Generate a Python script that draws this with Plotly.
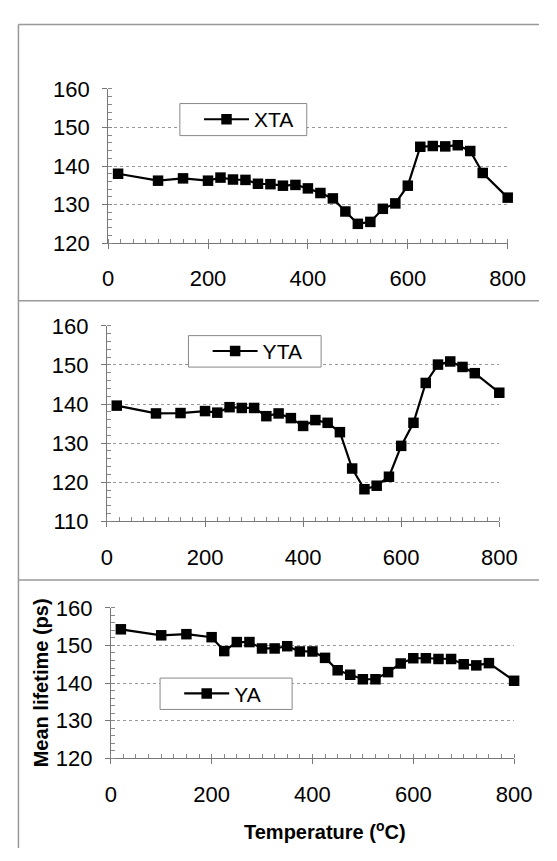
import plotly.graph_objects as go

temps = [20, 100, 150, 200, 225, 250, 275, 300, 325, 350, 375, 400, 425, 450,
         475, 500, 525, 550, 575, 600, 625, 650, 675, 700, 725, 750, 800]

xta = [138.0, 136.2, 136.8, 136.2, 137.0, 136.5, 136.4, 135.4, 135.3, 134.9, 135.1,
       134.2, 133.0, 131.6, 128.2, 125.0, 125.5, 128.9, 130.3, 134.9, 145.0, 145.2,
       145.1, 145.4, 143.9, 138.2, 131.8]

yta = [139.6, 137.6, 137.7, 138.2, 137.8, 139.2, 139.0, 139.0, 136.9, 137.6, 136.4,
       134.4, 135.9, 135.2, 132.8, 123.5, 118.2, 119.1, 121.4, 129.3, 135.2, 145.4,
       150.1, 150.9, 149.5, 147.9, 142.9]

ya = [154.3, 152.7, 153.0, 152.2, 148.5, 150.9, 150.9, 149.2, 149.2, 149.8, 148.4,
      148.4, 146.7, 143.4, 142.2, 141.0, 141.0, 142.9, 145.2, 146.6, 146.6, 146.4,
      146.4, 145.0, 144.7, 145.3, 140.6]

series_names = ["XTA", "YTA", "YA"]
y_ranges = [[120, 160], [110, 160], [120, 160]]
x_ticks = [0, 200, 400, 600, 800]
x_title = "Temperature (<sup>o</sup>C)"
y_title = "Mean lifetime (ps)"

W, H = 557, 861
FONT = "Arial, Liberation Sans, sans-serif"

def px_x(v):
    return v / W

def px_y(v):
    return (H - v) / H

# pixel geometry of the three panels: (x_left, x_right, y_top, y_bottom)
panels = [(106.7, 524.3, 79.3, 238.0),
          (105.5, 515.5, 323.3, 524.5),
          (109.5, 531.0, 613.7, 768.5)]
legend_boxes = [(181.7, 314.3, 94.3, 127.3),
                (190.7, 329.3, 333.3, 365.7),
                (161.0, 299.0, 686.0, 718.3)]

fig = go.Figure()
data = [xta, yta, ya]
for i, (name, vals) in enumerate(zip(series_names, data)):
    sfx = "" if i == 0 else str(i + 1)
    fig.add_trace(go.Scatter(
        x=temps, y=vals, name=name, mode="lines+markers",
        line=dict(color="black", width=2.2),
        marker=dict(symbol="square", size=10.5, color="black"),
        xaxis="x" + sfx, yaxis="y" + sfx,
        legend="legend" + sfx, cliponaxis=False,
    ))

layout = dict(
    width=W, height=H,
    margin=dict(l=0, r=0, t=0, b=0),
    paper_bgcolor="white", plot_bgcolor="white",
    font=dict(family=FONT, color="black", size=22),
    showlegend=True,
)

shapes = []
for i, ((xl, xr, yt, yb), yr, (bl, br, bt, bb)) in enumerate(zip(panels, y_ranges, legend_boxes)):
    sfx = "" if i == 0 else str(i + 1)
    layout["xaxis" + sfx] = dict(
        domain=[px_x(xl), px_x(xr)], range=[0, 800], anchor="y" + sfx,
        tickvals=x_ticks, showgrid=False, zeroline=False,
        showline=True, linecolor="#777", linewidth=1,
        ticks="outside", ticklen=5, tickcolor="#777",
        minor=dict(dtick=25, ticks="inside", ticklen=4, tickcolor="#888"),
        tickfont=dict(size=22, family=FONT), ticklabelstandoff=11,
    )
    layout["yaxis" + sfx] = dict(
        domain=[px_y(yb), px_y(yt)], range=yr, anchor="x" + sfx,
        dtick=10, showgrid=True, gridcolor="#999", griddash="dot", gridwidth=1,
        zeroline=False, showline=True, linecolor="#777", linewidth=1,
        ticks="outside", ticklen=5, tickcolor="#777",
        minor=dict(dtick=2, ticks="inside", ticklen=4, tickcolor="#888"),
        tickfont=dict(size=22, family=FONT), ticklabelstandoff=8,
    )
    layout["legend" + sfx] = dict(
        x=px_x(bl + 20), y=px_y((bt + bb) / 2), xanchor="left", yanchor="middle",
        bgcolor="rgba(0,0,0,0)", borderwidth=0,
        font=dict(size=21, family=FONT), itemwidth=45,
    )
    shapes.append(dict(type="rect", xref="paper", yref="paper",
                       x0=px_x(bl), x1=px_x(br), y0=px_y(bb), y1=px_y(bt),
                       line=dict(color="#888", width=1), fillcolor="white", layer="above"))

annotations = [
    dict(text=x_title, xref="paper", yref="paper", x=px_x(333), y=px_y(843),
         xanchor="center", yanchor="middle", showarrow=False,
         font=dict(size=20, family=FONT, weight="bold", color="black")),
    dict(text=y_title, xref="paper", yref="paper", x=px_x(37), y=px_y(691),
         xanchor="center", yanchor="middle", showarrow=False, textangle=-90,
         font=dict(size=20, family=FONT, weight="bold", color="black")),
]

# outer frame and panel separators
frame_col = "#999"
shapes += [
    dict(type="line", xref="paper", yref="paper", x0=px_x(13), x1=1.0, y0=px_y(13), y1=px_y(13),
         line=dict(color=frame_col, width=1.5)),
    dict(type="line", xref="paper", yref="paper", x0=px_x(13), x1=px_x(13), y0=0, y1=px_y(13),
         line=dict(color=frame_col, width=1.5)),
    dict(type="line", xref="paper", yref="paper", x0=px_x(13), x1=1.0, y0=px_y(297.5), y1=px_y(297.5),
         line=dict(color=frame_col, width=1.5)),
    dict(type="line", xref="paper", yref="paper", x0=px_x(13), x1=1.0, y0=px_y(585), y1=px_y(585),
         line=dict(color=frame_col, width=1.5)),
]
layout["shapes"] = shapes
layout["annotations"] = annotations

fig.update_layout(**layout)
fig.write_html("out.html")
